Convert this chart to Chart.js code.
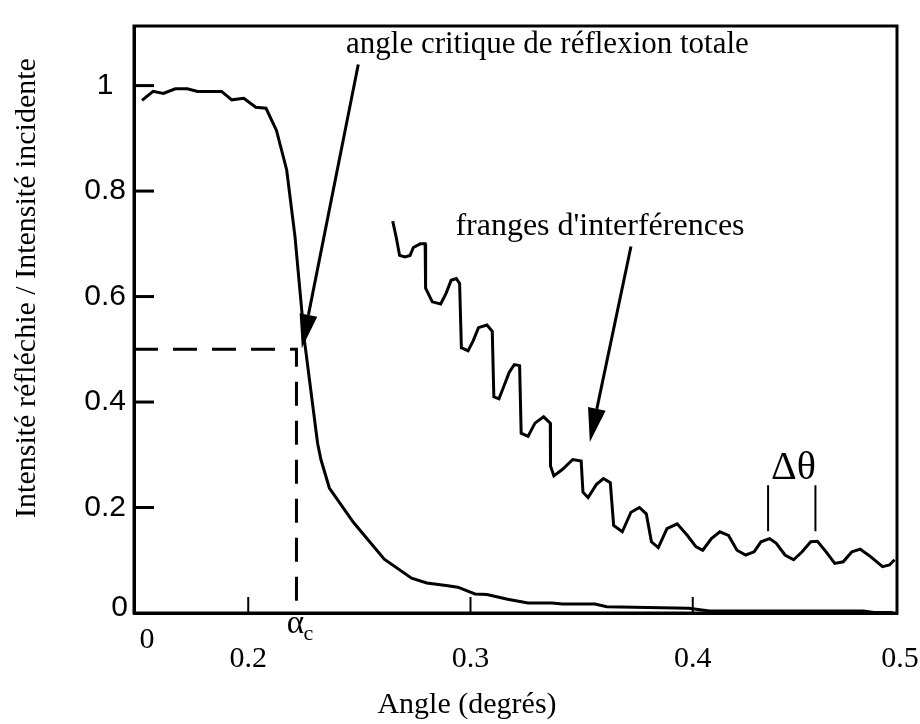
<!DOCTYPE html>
<html lang="fr">
<head>
<meta charset="utf-8">
<title>Réflectivité des rayons X</title>
<script src="https://cdn.jsdelivr.net/npm/chart.js@4.4.1/dist/chart.umd.min.js"></script>
<style>
  html, body { margin: 0; padding: 0; background: #fff; }
  #wrap { width: 920px; height: 724px; }
</style>
</head>
<body>
<div id="wrap"><canvas id="chart" width="920" height="724"></canvas></div>
<script>
// Reflected / incident intensity vs angle (degrés)
const REFL_ANGLE = [0.1522, 0.1572, 0.1618, 0.1672, 0.1726, 0.1772, 0.1880, 0.1926, 0.1980, 0.2034,
  0.2080, 0.2127, 0.2173, 0.2210, 0.2254, 0.2312, 0.2327, 0.2365, 0.2473, 0.2612,
  0.2735, 0.2803, 0.2890, 0.2943, 0.3020, 0.3074, 0.3167, 0.3259, 0.3367, 0.3413,
  0.3560, 0.3613, 0.3982, 0.4075, 0.4768, 0.4814, 0.4900];
const REFL_INT = [0.972, 0.989, 0.985, 0.994, 0.994, 0.989, 0.989, 0.973, 0.976, 0.959,
  0.957, 0.915, 0.840, 0.715, 0.513, 0.322, 0.291, 0.237, 0.172, 0.102,
  0.066, 0.057, 0.052, 0.049, 0.036, 0.035, 0.026, 0.019, 0.019, 0.017,
  0.017, 0.012, 0.009, 0.004, 0.004, 0.001, 0.001];

// Interference fringes (shifted trace)
const FRINGE_ANGLE = [0.2650, 0.2666, 0.2681, 0.2705, 0.2728, 0.2743, 0.2774, 0.2796, 0.2798, 0.2828,
  0.2866, 0.2890, 0.2913, 0.2936, 0.2951, 0.2959, 0.2989, 0.3012, 0.3036, 0.3074,
  0.3098, 0.3105, 0.3128, 0.3151, 0.3174, 0.3197, 0.3221, 0.3228, 0.3259, 0.3290,
  0.3329, 0.3359, 0.3360, 0.3375, 0.3413, 0.3460, 0.3498, 0.3506, 0.3529, 0.3567,
  0.3598, 0.3629, 0.3644, 0.3683, 0.3722, 0.3760, 0.3791, 0.3814, 0.3845, 0.3884,
  0.3930, 0.3976, 0.4014, 0.4045, 0.4084, 0.4122, 0.4161, 0.4199, 0.4238, 0.4276,
  0.4307, 0.4346, 0.4376, 0.4415, 0.4454, 0.4492, 0.4531, 0.4561, 0.4600, 0.4639,
  0.4677, 0.4716, 0.4754, 0.4800, 0.4854, 0.4885, 0.4908];
const FRINGE_INT = [0.743, 0.712, 0.678, 0.675, 0.678, 0.693, 0.700, 0.700, 0.616, 0.590,
  0.586, 0.606, 0.631, 0.634, 0.625, 0.503, 0.497, 0.516, 0.541, 0.546,
  0.534, 0.410, 0.406, 0.431, 0.456, 0.471, 0.469, 0.341, 0.335, 0.360,
  0.372, 0.360, 0.279, 0.260, 0.272, 0.291, 0.288, 0.229, 0.219, 0.244,
  0.255, 0.247, 0.166, 0.154, 0.191, 0.200, 0.188, 0.135, 0.124, 0.160,
  0.169, 0.147, 0.126, 0.119, 0.141, 0.154, 0.147, 0.119, 0.110, 0.116,
  0.135, 0.141, 0.132, 0.110, 0.101, 0.116, 0.135, 0.136, 0.116, 0.094,
  0.097, 0.116, 0.121, 0.107, 0.088, 0.091, 0.101];

const X_TICKS = [0.2, 0.3, 0.4];
const Y_TICKS = [0.2, 0.4, 0.6, 0.8, 1];
const X_MIN = 0.1486, X_MAX = 0.4919;
const Y_MIN = 0, Y_MAX = 1.113;
// broken-axis end labels
const X_START_LABEL = '0', X_END_LABEL = '0.5', Y_START_LABEL = '0';

// critical angle and the half-intensity level
const ALPHA_C = 0.2217;
const HALF_INT = 0.5;

// fringe period markers
const DELTA_ANGLES = [0.4339, 0.4552];
const DELTA_SPAN = [0.155, 0.242];

// annotations (data units)
const NOTES = [
  { text: 'angle critique de réflexion totale', x: 0.2440, y: 1.078, align: 'left', size: 31 },
  { text: "franges d'interférences", x: 0.2932, y: 0.733, align: 'left', size: 32 },
  { text: 'Δθ', x: 0.4453, y: 0.274, align: 'center', size: 40 }
];
const ARROWS = [
  { from: [0.2495, 1.04], to: [0.2241, 0.502] },
  { from: [0.3722, 0.695], to: [0.3537, 0.324] }
];

const X_TITLE = 'Angle (degrés)';
const Y_TITLE = 'Intensité réfléchie / Intensité incidente';

const SERIF = "'Liberation Serif', 'Times New Roman', serif";
const SANS = "'Liberation Sans', Arial, sans-serif";

const pts = (xs, ys) => xs.map((x, i) => ({ x, y: ys[i] }));

const markerPts = [];
DELTA_ANGLES.forEach((a, i) => {
  if (i) markerPts.push({ x: a, y: null });
  markerPts.push({ x: a, y: DELTA_SPAN[0] }, { x: a, y: DELTA_SPAN[1] });
});

function drawArrow(ctx, x1, y1, x2, y2) {
  const ang = Math.atan2(y2 - y1, x2 - x1);
  const head = 34, half = 9;
  const bx = x2 - head * Math.cos(ang), by = y2 - head * Math.sin(ang);
  ctx.beginPath();
  ctx.moveTo(x1, y1);
  ctx.lineTo(bx, by);
  ctx.stroke();
  ctx.beginPath();
  ctx.moveTo(x2, y2);
  ctx.lineTo(bx + half * Math.sin(ang), by - half * Math.cos(ang));
  ctx.lineTo(bx - half * Math.sin(ang), by + half * Math.cos(ang));
  ctx.closePath();
  ctx.fill();
}

// frame, inward ticks, titles, labels and arrows
const decorations = {
  id: 'decorations',
  afterDatasetsDraw(chart) {
    const { ctx, chartArea: a, scales: { x, y } } = chart;
    ctx.save();
    ctx.strokeStyle = '#000';
    ctx.fillStyle = '#000';
    ctx.lineWidth = 3;
    ctx.strokeRect(a.left, a.top, a.right - a.left, a.bottom - a.top);

    y.ticks.forEach(t => {
      const py = y.getPixelForValue(t.value);
      ctx.beginPath(); ctx.moveTo(a.left, py); ctx.lineTo(a.left + 20, py); ctx.stroke();
    });
    ctx.lineWidth = 2;
    x.ticks.forEach(t => {
      const px = x.getPixelForValue(t.value);
      ctx.beginPath(); ctx.moveTo(px, a.bottom); ctx.lineTo(px, a.bottom - 16); ctx.stroke();
    });

    ctx.textBaseline = 'middle';
    ctx.font = '30px ' + SERIF;
    ctx.textAlign = 'center';
    ctx.fillText(X_START_LABEL, a.left + 13, a.bottom + 27);
    ctx.fillText(X_END_LABEL, a.right + 3, a.bottom + 46);
    ctx.fillText(X_TITLE, a.left + 333, a.bottom + 92);
    ctx.font = '30px ' + SANS;
    ctx.textAlign = 'right';
    ctx.fillText(Y_START_LABEL, a.left - 6, a.bottom - 5);

    ctx.save();
    ctx.translate(a.left - 107, a.top + 262);
    ctx.rotate(-Math.PI / 2);
    ctx.textAlign = 'center';
    ctx.font = '30px ' + SERIF;
    ctx.fillText(Y_TITLE, 0, 0);
    ctx.restore();

    // alpha_c under the dashed line
    const ax = x.getPixelForValue(ALPHA_C);
    ctx.textAlign = 'center';
    ctx.font = '33px ' + SERIF;
    ctx.fillText('α', ax - 1, a.bottom + 11);
    ctx.font = '22px ' + SERIF;
    ctx.fillText('c', ax + 12, a.bottom + 21);

    NOTES.forEach(n => {
      ctx.font = n.size + 'px ' + SERIF;
      ctx.textAlign = n.align;
      ctx.fillText(n.text, x.getPixelForValue(n.x), y.getPixelForValue(n.y));
    });

    ctx.lineWidth = 3;
    ARROWS.forEach(ar => {
      drawArrow(ctx,
        x.getPixelForValue(ar.from[0]), y.getPixelForValue(ar.from[1]),
        x.getPixelForValue(ar.to[0]), y.getPixelForValue(ar.to[1]));
    });
    ctx.restore();
  }
};

new Chart(document.getElementById('chart'), {
  type: 'line',
  data: {
    datasets: [
      { label: 'réflectivité', data: pts(REFL_ANGLE, REFL_INT), borderColor: '#000', borderWidth: 3, pointRadius: 0, tension: 0 },
      { label: 'franges', data: pts(FRINGE_ANGLE, FRINGE_INT), borderColor: '#000', borderWidth: 3, pointRadius: 0, tension: 0 },
      { label: 'alpha_c', data: [{ x: X_MIN, y: HALF_INT }, { x: ALPHA_C, y: HALF_INT }, { x: ALPHA_C, y: Y_MIN }],
        borderColor: '#000', borderWidth: 3, borderDash: [24, 15], pointRadius: 0, tension: 0 },
      { label: 'delta', data: markerPts, borderColor: '#000', borderWidth: 2, pointRadius: 0, spanGaps: false }
    ]
  },
  options: {
    responsive: false,
    animation: false,
    events: [],
    layout: { padding: { top: 10, right: 23, left: 0, bottom: 0 } },
    plugins: { legend: { display: false }, tooltip: { enabled: false } },
    scales: {
      x: {
        type: 'linear',
        min: X_MIN, max: X_MAX,
        afterFit(s) { s.height = 111; },
        afterBuildTicks(s) { s.ticks = X_TICKS.map(v => ({ value: v })); },
        grid: { display: false, drawTicks: false },
        border: { display: true, color: '#000', width: 3 },
        ticks: { color: '#000', font: { family: SERIF, size: 30 }, padding: 28, autoSkip: false, maxRotation: 0, callback: v => String(v) }
      },
      y: {
        min: Y_MIN, max: Y_MAX,
        afterFit(s) { s.width = 134; },
        afterBuildTicks(s) { s.ticks = Y_TICKS.map(v => ({ value: v })); },
        grid: { display: false, drawTicks: false },
        border: { display: true, color: '#000', width: 3 },
        ticks: { color: '#000', font: { family: SANS, size: 30 }, padding: 8, crossAlign: 'center', callback: v => String(v) }
      }
    }
  },
  plugins: [decorations]
});
</script>
</body>
</html>
